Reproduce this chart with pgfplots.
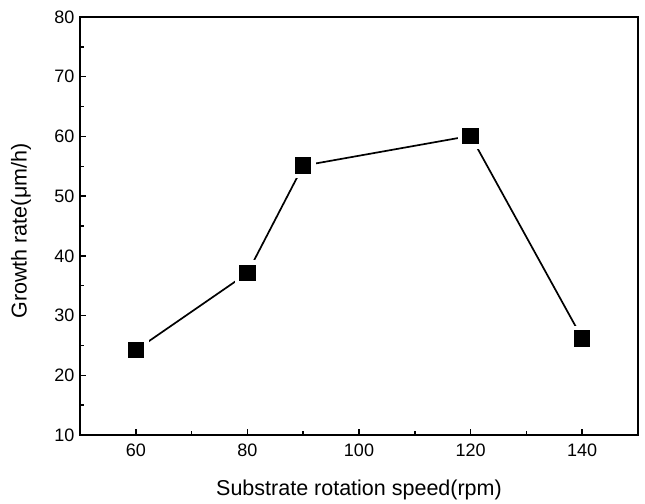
\documentclass[border=0pt]{standalone}
\usepackage{fontspec}
\setmainfont{Liberation Sans}
\usepackage{pgfplots}
\pgfplotsset{compat=1.18}
\begin{document}
\begin{tikzpicture}[x=1pt,y=1pt]
\begin{axis}[
  scale only axis,
  width=558pt, height=418pt,
  xmin=50, xmax=150, ymin=10, ymax=80,
  xtick={60,80,100,120,140},
  ytick={10,20,30,40,50,60,70,80},
  minor x tick num=1, minor y tick num=1,
  tick align=inside,
  xtick pos=bottom, ytick pos=left,
  major tick length=6pt, minor tick length=4pt,
  every tick/.style={black, line width=1.5pt},
  axis line style={line width=2pt},
  /pgf/number format/assume math mode=true,
  tick label style={font=\fontsize{18}{21}\selectfont},
  label style={font=\fontsize{21.5}{25}\selectfont},
  xlabel={Substrate rotation speed(rpm)},
  ylabel={Growth rate(μm/h)},
  xlabel style={at={([yshift=-55pt]axis description cs:0.5,0)}, anchor=center},
  ylabel style={at={([xshift=-59pt,yshift=-5pt]axis description cs:0,0.5)}, anchor=center},
  xticklabel style={yshift=-5pt},
  yticklabel style={xshift=-2pt},
]
% square markers with a thin white rim, so the line stops just short of them
\addplot[black, line width=1.7pt, mark=square*, mark size=10.5pt,
  mark options={solid, fill=black, draw=white, line width=4.5pt}] coordinates {
  (60,24.2) (80,37.1) (90,55.1) (120,60.1) (140,26.2)
};
\end{axis}
% page margins around the axis box
\path (current axis.south west) ++(-80pt,-66pt);
\path (current axis.north east) ++(7pt,17pt);
\end{tikzpicture}
\end{document}
